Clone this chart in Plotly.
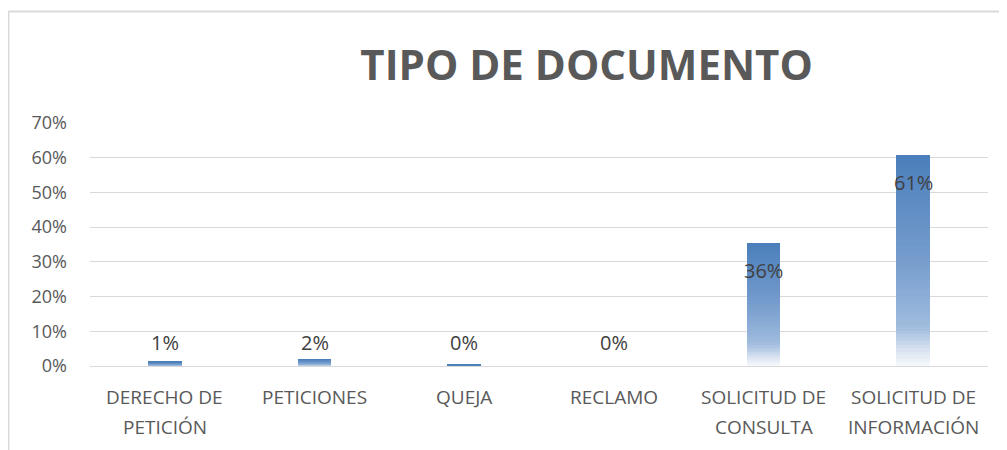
import plotly.graph_objects as go

categories = ['DERECHO DE<br>PETICIÓN', 'PETICIONES', 'QUEJA', 'RECLAMO',
              'SOLICITUD DE<br>CONSULTA', 'SOLICITUD DE<br>INFORMACIÓN']
values = [0.012, 0.020, 0.003, 0.0, 0.355, 0.608]
labels = ['1%', '2%', '0%', '0%', '36%', '61%']
y_ticks = [0, 0.1, 0.2, 0.3, 0.4, 0.5, 0.6, 0.7]

FONT = 'Open Sans, Calibri, sans-serif'

# gradient stops (fraction of bar height from the bottom, rgb)
stops = [(0.0, (246, 249, 252)), (0.08, (214, 225, 240)), (0.18, (160, 188, 222)),
         (0.5, (118, 157, 205)), (1.0, (74, 126, 187))]


def grad_color(t):
    for (t0, c0), (t1, c1) in zip(stops[:-1], stops[1:]):
        if t <= t1:
            f = (t - t0) / (t1 - t0)
            c = [round(a + (b - a) * f) for a, b in zip(c0, c1)]
            return 'rgb({},{},{})'.format(*c)
    return 'rgb(74,126,187)'


# stack thin slices of each bar to fake the vertical gradient fill
n_slices = 60
data = []
for k in range(n_slices):
    data.append(go.Bar(
        x=categories,
        y=[v / n_slices for v in values],
        width=0.227,
        marker={'color': grad_color((k + 0.5) / n_slices), 'line': {'width': 0}},
        showlegend=False,
        hoverinfo='skip'
    ))

annotations = []
# data labels
for cat, v, lab in zip(categories, values, labels):
    if v > 0.1:
        annotations.append(dict(x=cat, y=v, yref='y', text=lab, showarrow=False,
                                yanchor='middle', yshift=-28,
                                font={'size': 20, 'color': '#404040', 'family': FONT}))
    else:
        annotations.append(dict(x=cat, y=0, yref='y', text=lab, showarrow=False,
                                yanchor='middle', yshift=24,
                                font={'size': 20, 'color': '#404040', 'family': FONT}))
# category labels (Excel-like line spacing)
for cat in categories:
    for i, line in enumerate(cat.split('<br>')):
        annotations.append(dict(x=cat, y=0, yref='y', text=line, showarrow=False,
                                yanchor='middle', yshift=-31 - 30 * i,
                                font={'size': 19, 'color': '#595959', 'family': FONT}))

# page body adds an 8px offset, so the figure is a bit smaller
layout = go.Layout({
    'width': 999,
    'height': 442,
    'barmode': 'stack',
    'bargap': 0,
    'paper_bgcolor': 'white',
    'plot_bgcolor': 'white',
    'margin': {'l': 82, 'r': 19, 't': 115, 'b': 84},
    'title': {
        'text': '<b>TIPO DE DOCUMENTO</b>',
        'x': 0.553, 'xref': 'paper', 'xanchor': 'center',
        'y': 0.871, 'yref': 'container', 'yanchor': 'middle',
        'font': {'size': 42, 'color': '#595959', 'family': FONT}
    },
    'xaxis': {'showticklabels': False, 'showgrid': False, 'zeroline': False,
              'showline': False, 'ticks': ''},
    'yaxis': {'range': [0, 0.7], 'tickvals': y_ticks, 'tickformat': '.0%',
              'gridcolor': '#d9d9d9', 'gridwidth': 1, 'zeroline': True,
              'zerolinecolor': '#d9d9d9', 'zerolinewidth': 1, 'showline': False,
              'ticks': '', 'ticklabelstandoff': 22,
              'tickfont': {'size': 18, 'color': '#595959', 'family': FONT}},
    'annotations': annotations,
    'shapes': [
        {'type': 'line', 'xref': 'paper', 'yref': 'paper',
         'x0': -0.0908, 'x1': -0.0908, 'y0': 1.4588, 'y1': -0.36,
         'line': {'color': '#d9d9d9', 'width': 2}},
        {'type': 'line', 'xref': 'paper', 'yref': 'paper',
         'x0': -0.0908, 'x1': 1.02, 'y0': 1.4588, 'y1': 1.4588,
         'line': {'color': '#d9d9d9', 'width': 2}},
    ]
})

fig = go.Figure(data=data, layout=layout)
fig.write_html('out.html')
